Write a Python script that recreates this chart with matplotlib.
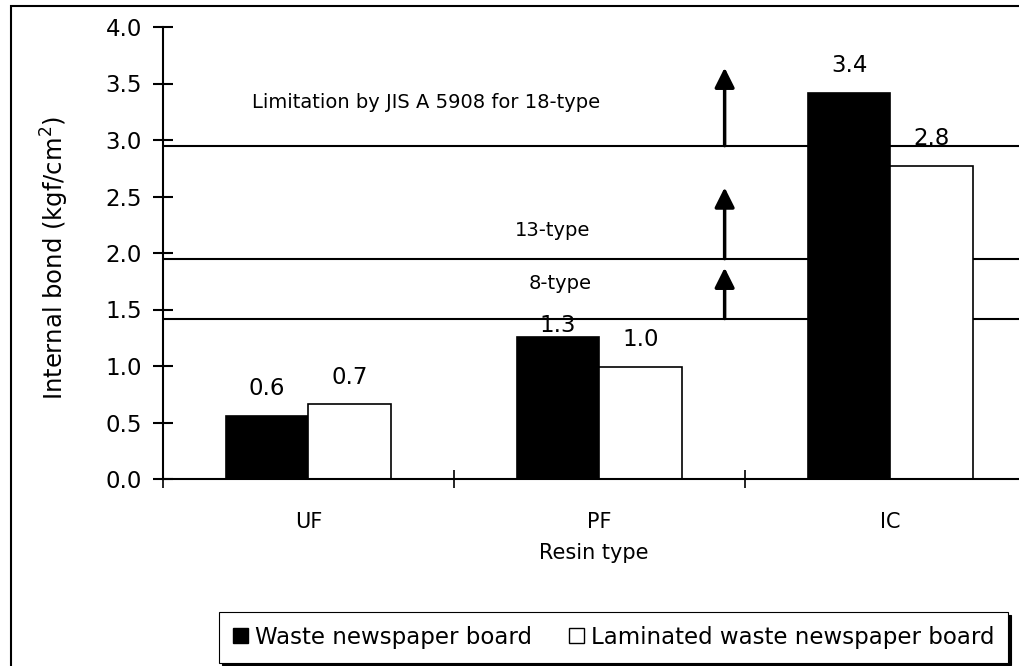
import matplotlib
matplotlib.use("Agg")
import matplotlib.pyplot as plt
from matplotlib.patches import Patch, Rectangle
import numpy as np

plt.rcParams['font.family'] = ['DejaVu Sans']

# Internal bond by resin type (kgf/cm2)
resins = ['UF', 'PF', 'IC']
series_names = ['Waste newspaper board', 'Laminated waste newspaper board']
waste_board = [0.56, 1.26, 3.42]
laminated_board = [0.66, 0.99, 2.77]

# JIS A 5908 internal bond limits
limit_values = [2.95, 1.95, 1.42]
limit_names = ['Limitation by JIS A 5908 for 18-type', '13-type', '8-type']

W, H = 1019, 666
fig = plt.figure(figsize=(W / 100, H / 100), dpi=100)
ax = fig.add_axes([163 / W, 187 / H, 873 / W, 452 / H])

x = np.arange(len(resins))
bw = 0.285

for v in limit_values:
    ax.axhline(v, color='black', lw=1.5, zorder=1)

b1 = ax.bar(x - bw / 2, waste_board, bw, color='black', edgecolor='black', lw=1.2, zorder=2)
b2 = ax.bar(x + bw / 2, laminated_board, bw, color='white', edgecolor='black', lw=1.2, zorder=2)

# value labels above each bar (the PF waste label sits lower, close to its bar)
offsets = [[15, 3.5, 15], [15, 15, 15]]
for si, (bars, vals) in enumerate([(b1, waste_board), (b2, laminated_board)]):
    for i, (r, v) in enumerate(zip(bars, vals)):
        ax.annotate(f"{v:.1f}", (r.get_x() + r.get_width() / 2, v),
                    xytext=(0, offsets[si][i]), textcoords='offset points',
                    ha='center', va='baseline', fontsize=16.5, zorder=3)

# limit annotations with upward arrows
text_pos = [(0.405, 3.283), (0.838, 2.15), (0.866, 1.68)]
arrow_tops = [3.64, 2.58, 1.87]
arrow_x = 1.43
for v, top, name, (tx, ty) in zip(limit_values, arrow_tops, limit_names, text_pos):
    ax.text(tx, ty, name, ha='center', va='baseline', fontsize=14)
    ax.annotate('', xy=(arrow_x, top), xytext=(arrow_x, v),
                arrowprops=dict(arrowstyle='-|>,head_length=0.6,head_width=0.3',
                                mutation_scale=20, lw=2.5, color='black',
                                shrinkA=0, shrinkB=0), zorder=3)

ax.set_xlim(-0.5, 2.5)
ax.set_ylim(0, 4.0)
ax.set_yticks(np.arange(0, 4.01, 0.5))
ax.set_yticklabels([f"{t:.1f}" for t in np.arange(0, 4.01, 0.5)])
ax.set_xticks(x)
ax.set_xticklabels(resins)
ax.set_xticks(np.arange(-0.5, 2.6, 1.0), minor=True)
ax.tick_params(axis='y', direction='inout', length=14, width=1.5, pad=8, labelsize=16.5)
ax.tick_params(axis='x', which='major', length=0, pad=23.5, labelsize=15)
ax.tick_params(axis='x', which='minor', direction='inout', length=13, width=1.2)

for s in ['top', 'right']:
    ax.spines[s].set_visible(False)
for s in ['left', 'bottom']:
    ax.spines[s].set_linewidth(1.5)

ax.set_xlabel('Resin type', fontsize=15)
ax.xaxis.set_label_coords(0.493, -0.1416)
ax.set_ylabel('Internal bond (kgf/cm$^2$)', fontsize=17.5)
ax.yaxis.set_label_coords(-0.105, 0.49)

handles = [Patch(facecolor='black', edgecolor='black'),
           Patch(facecolor='white', edgecolor='black')]
leg = fig.legend(handles, series_names, loc='upper left', ncol=2, mode='expand',
                 bbox_to_anchor=(219 / W, 1 - 612 / H, 789 / W, 0), borderaxespad=0,
                 fontsize=16.5, handlelength=0.65, handleheight=0.65, handletextpad=0.3,
                 columnspacing=0.6, borderpad=0.6, fancybox=False,
                 shadow={'color': 'black', 'alpha': 1.0})
leg.get_frame().set_edgecolor('black')
leg.get_frame().set_linewidth(0.8)

# outer chart frame
fig.patches.append(Rectangle((11 / W, -0.1), 1.2, 1.1 - 6 / H, transform=fig.transFigure,
                             fill=False, lw=1.5, edgecolor='black'))

fig.savefig('out.png', dpi=100)
